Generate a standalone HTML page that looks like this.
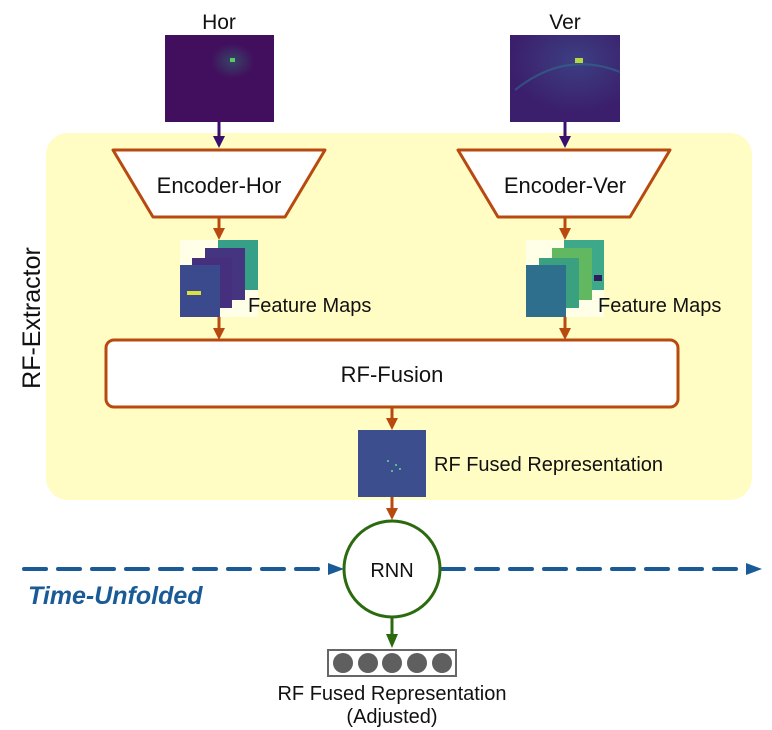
<!DOCTYPE html>
<html><head><style>
body{margin:0;background:#fff;}
svg{display:block;font-family:"Liberation Sans",sans-serif;}
</style></head><body>
<svg width="772" height="730" viewBox="0 0 772 730" xmlns="http://www.w3.org/2000/svg">
<defs>
<radialGradient id="hg" cx="0.62" cy="0.3" r="0.2"><stop offset="0" stop-color="#2a7a70"/><stop offset="1" stop-color="#420f5e"/></radialGradient>
<radialGradient id="vg" cx="0.6" cy="0.3" r="0.6"><stop offset="0" stop-color="#3d3f82"/><stop offset="1" stop-color="#3b1f6c"/></radialGradient>
</defs>
<rect x="46" y="133" width="706" height="367" rx="22" fill="#fffcc4"/>
<text x="0" y="0" transform="translate(40,318) rotate(-90)" font-size="25" text-anchor="middle" fill="#111">RF-Extractor</text>

<text x="219" y="29" font-size="21" text-anchor="middle" fill="#111">Hor</text>
<text x="565" y="29" font-size="21" text-anchor="middle" fill="#111">Ver</text>
<rect x="165" y="35" width="109" height="87" fill="#420f5e"/>
<rect x="165" y="35" width="109" height="87" fill="url(#hg)" opacity="0.5"/>
<rect x="230" y="58" width="5" height="4" fill="#5ac864"/>
<rect x="510" y="35" width="110" height="87" fill="url(#vg)"/>
<path d="M515 90 Q565 50 620 72" stroke="#2d6e8e" stroke-width="2" fill="none" opacity="0.6"/>
<rect x="575" y="58" width="8" height="5" fill="#b5d840"/>

<g stroke="#3a0f6e" stroke-width="3" fill="#3a0f6e">
<line x1="219" y1="122" x2="219" y2="138"/><polygon points="213,136 225,136 219,148" stroke="none"/>
<line x1="565" y1="122" x2="565" y2="138"/><polygon points="559,136 571,136 565,148" stroke="none"/>
</g>

<g stroke="#b84a10" stroke-width="3" fill="#fff" stroke-linejoin="round">
<polygon points="113,150 325,150 285,217 153,217"/>
<polygon points="458,150 670,150 630,217 498,217"/>
<rect x="106" y="340" width="572" height="67" rx="8"/>
</g>
<text x="219" y="193" font-size="22" text-anchor="middle" fill="#111">Encoder-Hor</text>
<text x="565" y="193" font-size="22" text-anchor="middle" fill="#111">Encoder-Ver</text>
<text x="392" y="382" font-size="22" text-anchor="middle" fill="#111">RF-Fusion</text>

<g stroke="#b84a10" stroke-width="3" fill="#b84a10">
<line x1="219" y1="217" x2="219" y2="230"/><polygon points="213,228 225,228 219,240" stroke="none"/>
<line x1="565" y1="217" x2="565" y2="230"/><polygon points="559,228 571,228 565,240" stroke="none"/>
<line x1="219" y1="317" x2="219" y2="330"/><polygon points="213,328 225,328 219,340" stroke="none"/>
<line x1="565" y1="317" x2="565" y2="330"/><polygon points="559,328 571,328 565,340" stroke="none"/>
<line x1="392" y1="407" x2="392" y2="420"/><polygon points="386,418 398,418 392,430" stroke="none"/>
<line x1="392" y1="497" x2="392" y2="510"/><polygon points="386,508 398,508 392,520" stroke="none"/>
</g>

<rect x="180" y="240" width="78" height="77" fill="#fff" opacity="0.6"/>
<rect x="218" y="240" width="40" height="50" fill="#35a087"/>
<rect x="205" y="248" width="40" height="52" fill="#45347f"/>
<rect x="192" y="258" width="40" height="50" fill="#46307d"/>
<rect x="180" y="265" width="40" height="52" fill="#3b4a8c"/>
<rect x="187" y="291" width="14" height="4" fill="#d9e040"/>
<text x="248" y="312" font-size="20" fill="#111">Feature Maps</text>
<rect x="526" y="240" width="78" height="77" fill="#fff" opacity="0.6"/>
<rect x="564" y="240" width="40" height="50" fill="#3da98a"/>
<rect x="552" y="248" width="40" height="52" fill="#62b860"/>
<rect x="539" y="258" width="40" height="50" fill="#3aa07f"/>
<rect x="526" y="265" width="40" height="52" fill="#2e6f8e"/>
<rect x="594" y="275" width="8" height="6" fill="#2e1f5c"/>
<text x="598" y="312" font-size="20" fill="#111">Feature Maps</text>

<rect x="358" y="430" width="68" height="67" fill="#3d4e8e"/>
<g fill="#4fc08a"><rect x="387" y="460" width="2" height="2"/><rect x="395" y="464" width="2" height="2"/><rect x="391" y="470" width="2" height="2"/><rect x="399" y="468" width="2" height="2"/></g>
<text x="434" y="471" font-size="20" fill="#111">RF Fused Representation</text>

<line x1="24" y1="569" x2="330" y2="569" stroke="#1a5a96" stroke-width="4" stroke-dasharray="22,12" stroke-linecap="round"/>
<polygon points="328,563 344,569 328,575" fill="#1a5a96"/>
<line x1="442" y1="569" x2="748" y2="569" stroke="#1a5a96" stroke-width="4" stroke-dasharray="22,12" stroke-linecap="round"/>
<polygon points="746,563 762,569 746,575" fill="#1a5a96"/>
<text x="28" y="604" font-size="25" font-style="italic" font-weight="bold" fill="#1a5a96">Time-Unfolded</text>

<circle cx="392" cy="569" r="48" fill="#fff" stroke="#2c6a0f" stroke-width="3"/>
<text x="392" y="577" font-size="20" text-anchor="middle" fill="#111">RNN</text>
<line x1="392" y1="617" x2="392" y2="636" stroke="#2c6a0f" stroke-width="3"/>
<polygon points="386,634 398,634 392,648" fill="#2c6a0f"/>

<rect x="328" y="650" width="128" height="26" fill="#fff" stroke="#666" stroke-width="2"/>
<g fill="#5f5f5f">
<circle cx="343" cy="663" r="10"/><circle cx="368" cy="663" r="10"/><circle cx="392" cy="663" r="10"/><circle cx="417" cy="663" r="10"/><circle cx="442" cy="663" r="10"/>
</g>
<text x="392" y="700" font-size="20" text-anchor="middle" fill="#111">RF Fused Representation</text>
<text x="392" y="723" font-size="20" text-anchor="middle" fill="#111">(Adjusted)</text>
</svg>
</body></html>
